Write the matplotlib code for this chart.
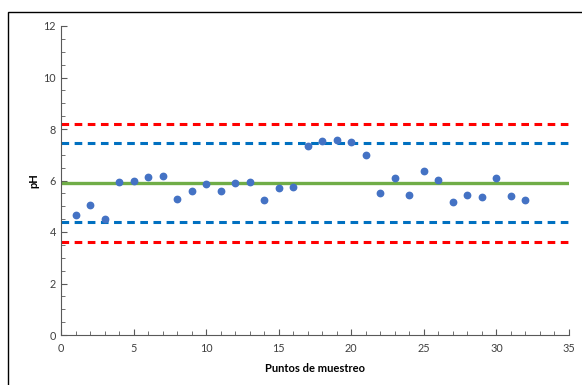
import numpy as np
import matplotlib.pyplot as plt
from matplotlib.patches import Rectangle
from matplotlib.ticker import MultipleLocator

plt.rcParams['font.family'] = ['Lato', 'DejaVu Sans']

puntos = list(range(1, 33))
ph = [4.66, 5.05, 4.50, 5.94, 5.98, 6.15, 6.19, 5.28, 5.59, 5.86,
      5.59, 5.90, 5.94, 5.24, 5.70, 5.75, 7.34, 7.53, 7.57, 7.50,
      6.99, 5.51, 6.11, 5.44, 6.37, 6.03, 5.17, 5.44, 5.36, 6.11,
      5.40, 5.25]
media = 5.89
lim_blue = [7.44, 4.38]
lim_red = [8.19, 3.60]

fig = plt.figure(figsize=(5.82, 3.85), dpi=100)
fig.patches.append(Rectangle((8/582, -0.1), 1.2, (385-12)/385 + 0.1,
                             transform=fig.transFigure, fill=False,
                             edgecolor='black', linewidth=1))
ax = fig.add_axes([61/582, 50/385, 508/582, 309/385])

xr = [0, 35]
for v in lim_red:
    ax.plot(xr, [v, v], color='#FF0000', linewidth=2.2, dashes=(2.5, 1.8), zorder=2)
for v in lim_blue:
    ax.plot(xr, [v, v], color='#0070C0', linewidth=2.2, dashes=(2.5, 1.8), zorder=2)
ax.plot(xr, [media, media], color='#70AD47', linewidth=2.4, zorder=2)
ax.plot(puntos, ph, 'o', color='#4472C4', markersize=4.6, zorder=3)

ax.set_xlim(0, 35)
ax.set_ylim(0, 12)
ax.xaxis.set_major_locator(MultipleLocator(5))
ax.xaxis.set_minor_locator(MultipleLocator(1))
ax.yaxis.set_major_locator(MultipleLocator(2))
ax.yaxis.set_minor_locator(MultipleLocator(0.5))
ax.tick_params(which='both', direction='in', colors='#595959', labelsize=7.8,
               labelcolor='#404040')
ax.tick_params(which='major', length=4)
ax.tick_params(which='minor', length=3)
ax.tick_params(axis='x', pad=6)
for s in ['top', 'right']:
    ax.spines[s].set_visible(False)
for s in ['left', 'bottom']:
    ax.spines[s].set_color('#595959')

ax.set_xlabel('Puntos de muestreo', fontsize=8, fontweight='bold', labelpad=6)
ax.set_ylabel('pH', fontsize=8, fontweight='bold', labelpad=3)

fig.savefig('out.png', dpi=100)
